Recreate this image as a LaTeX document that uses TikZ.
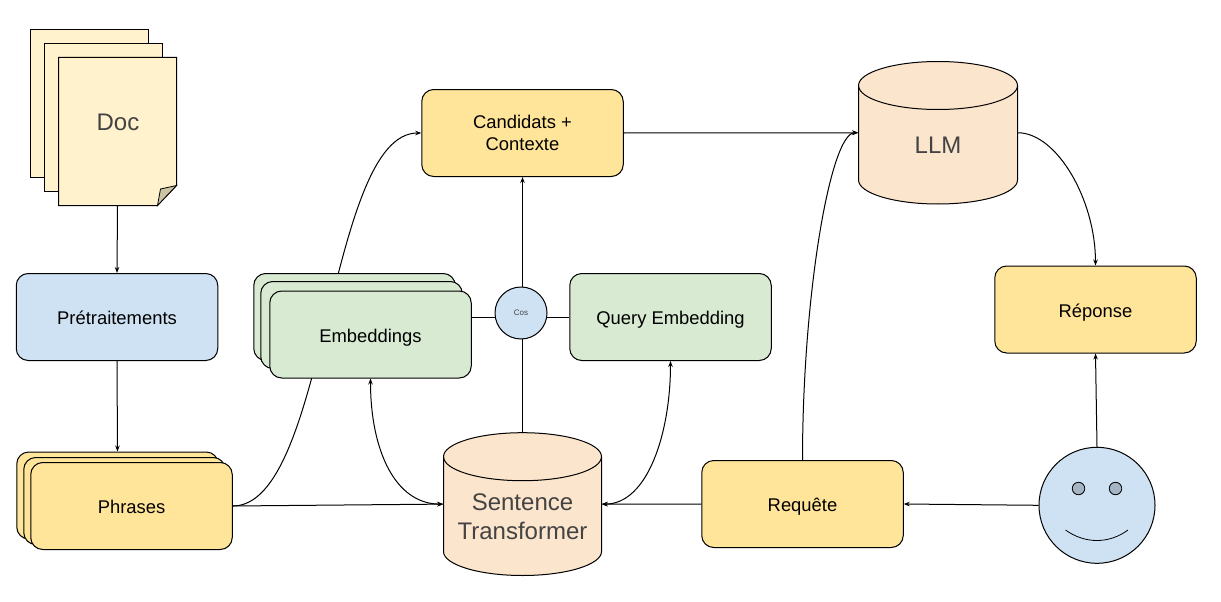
\documentclass[tikz,border=0pt]{standalone}
\usepackage{fontspec}
\setmainfont{Liberation Sans}
\usetikzlibrary{arrows.meta,backgrounds}
\definecolor{cyellow}{HTML}{FFE599}
\definecolor{cblue}{HTML}{CFE2F3}
\definecolor{cgreen}{HTML}{D9EAD3}
\definecolor{cpeach}{HTML}{FCE5CD}
\definecolor{cpaper}{HTML}{FFF2CC}
\definecolor{cfold}{HTML}{CCC2A4}
\definecolor{ceye}{HTML}{A6B5C4}
\definecolor{ctext}{HTML}{434343}
\tikzset{
  box/.style={draw=black,line width=1pt,rounded corners=12pt,minimum width=201.5pt,minimum height=87pt,inner sep=0pt,align=center,font=\fontsize{18.4}{22.5}\selectfont},
  oneline/.style={text height=15pt,text depth=0pt},
  boxy/.style={box,fill=cyellow},
  boxb/.style={box,fill=cblue},
  boxg/.style={box,fill=cgreen},
  sheet/.style={draw=black,line width=1pt,fill=cpaper},
  bigtext/.style={text=ctext,inner sep=0pt,align=center,font=\fontsize{24}{28.5}\selectfont},
  shape line/.style={draw=black,line width=1pt},
  conn/.style={draw=black,line width=1pt,-{Stealth[length=6pt,width=4.5pt]}},
  plainconn/.style={draw=black,line width=1pt},
  biconn/.style={draw=black,line width=1pt,{Stealth[length=6pt,width=4.5pt]}-{Stealth[length=6pt,width=4.5pt]}}
}
% cylinder: left x, right x, top y, bottom y, ellipse half height
\newcommand{\cylshape}[5]{%
  \pgfmathsetmacro{\crx}{(#2-#1)/2}%
  \path[shape line,fill=cpeach] (#1,#3+#5) arc[start angle=180,end angle=360,x radius=\crx,y radius=#5]
    -- (#2,#4-#5) arc[start angle=0,end angle=180,x radius=\crx,y radius=#5] -- cycle;
  \path[shape line] (#1,#3+#5) arc[start angle=180,end angle=0,x radius=\crx,y radius=#5];
}
\begin{document}
\begin{tikzpicture}[x=1pt,y=-1pt]
\useasboundingbox (0,0) rectangle (1221,602);

% document stack
\draw[sheet] (30.5,29.5) rectangle (148.5,177.5);
\draw[sheet] (44.5,43.5) rectangle (162.5,191.5);
\draw[sheet] (58.5,57.5) -- (176.5,57.5) -- (176.5,185.5) -- (157.5,205.5) -- (58.5,205.5) -- cycle;
\draw[line width=.8pt,fill=cfold] (176.5,185.5) -- (160.5,189) -- (157.5,205.5) -- cycle;
\node[inner sep=0pt,minimum width=118pt,minimum height=148pt] (doc) at (117.5,131.5) {};
\node[bigtext] (doclabel) at (118,122) {Doc};

\node[boxb,oneline] (pre) at (117,317) {Prétraitements};

% phrases stack
\node[boxy] (phr3) at (117.5,495.5) {};
\node[boxy] (phr2) at (124.5,501) {};
\node[boxy,oneline] (phr) at (131.5,506) {Phrases};

% embeddings stack
\node[boxg] (emb3) at (354.5,317) {};
\node[boxg] (emb2) at (361.5,325) {};
\node[boxg,oneline] (emb) at (370.5,334.5) {Embeddings};

\node[draw=black,line width=1pt,fill=cblue,circle,minimum size=52pt,inner sep=0pt,text=ctext,font=\fontsize{8}{9}\selectfont] (cos) at (521,313) {Cos};
\node[boxg,oneline] (query) at (670.5,317) {Query Embedding};
\node[boxy] (cand) at (522.5,133) {Candidats +\\Contexte};
\node[boxy,oneline] (rep) at (1095.5,309.5) {Réponse};
\node[boxy,oneline] (req) at (802.5,504) {Requête};

% LLM
\cylshape{858.5}{1017.5}{61.5}{204}{24}
\node[inner sep=0pt,minimum width=159pt,minimum height=142.5pt] (llm) at (938,132.75) {};
\node[bigtext] (llmlabel) at (938,145) {LLM};

% Sentence Transformer
\cylshape{443.5}{601.5}{432.7}{575.5}{24}
\node[inner sep=0pt,minimum width=158pt,minimum height=142.8pt] (st) at (522.5,504.1) {};
\node[bigtext] (stlabel) at (522.5,516.5) {Sentence\\Transformer};

% smiley
\node[draw=black,line width=1pt,fill=cblue,circle,minimum size=116pt,inner sep=0pt] (user) at (1097,505.3) {};
\node[draw=black,line width=.8pt,fill=ceye,circle,minimum size=12.5pt,inner sep=0pt] (eyeL) at (1078.5,488.5) {};
\node[draw=black,line width=.8pt,fill=ceye,circle,minimum size=12.5pt,inner sep=0pt] (eyeR) at (1115.5,488.5) {};
\draw[line width=.8pt] (1065.5,530) .. controls (1085,544) and (1109,544) .. (1128,530);

\begin{scope}[on background layer]
\fill[white] (0,0) rectangle (1221,602);
\draw[conn] (doc.south) -- (pre.north);
\draw[conn] (pre.south) -- (phr3.north);
\draw[conn] (phr.east) -- (st.west);
\draw[conn] (phr.east) .. controls +(94.5,0) and +(-94,0) .. (cand.west);
\draw[biconn] (emb.south) .. controls +(0,72) and +(-48,0) .. (st.west);
\draw[biconn] (query.south) .. controls +(0,72) and +(46,0) .. (st.east);
\draw[plainconn] (emb.east |- query.west) -- (query.west);
\draw[conn] (st.north) -- (cand.south);
\draw[conn] (req.west) -- (st.east);
\draw[conn] (req.north) .. controls +(0,-164) and +(-28,0) .. (llm.west);
\draw[conn] (cand.east) -- (llm.west);
\draw[conn] (llm.east) .. controls +(39,0) and +(0,-66) .. (rep.north);
\draw[conn] (user.north) -- (rep.south);
\draw[conn] (user.west) -- (req.east);
\end{scope}
\end{tikzpicture}
\end{document}
